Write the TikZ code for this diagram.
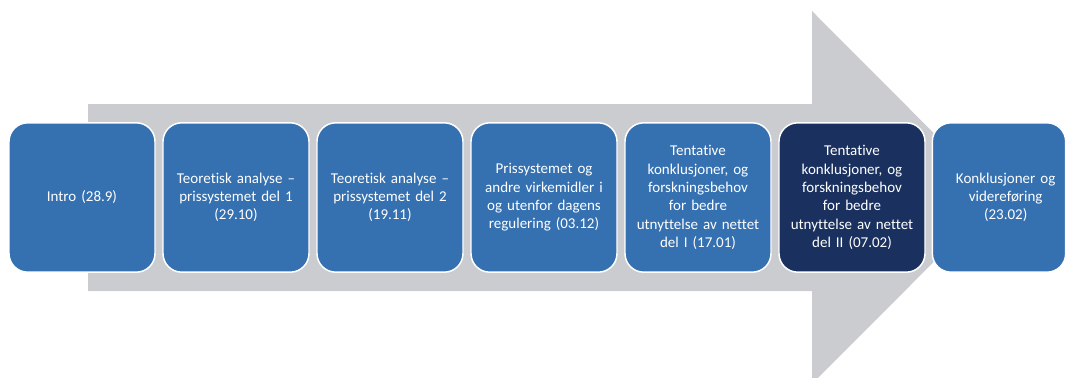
\documentclass[tikz,border=0pt]{standalone}
\usepackage{fontspec}
\setmainfont{Carlito}[Ligatures={NoCommon,NoRare}]
\definecolor{boxblue}{RGB}{53,112,176}
\definecolor{boxnavy}{RGB}{26,49,95}
\definecolor{arrowgray}{RGB}{203,204,208}
\begin{document}
\begin{tikzpicture}[x=0.75pt,y=-0.75pt,
  stagebox/.style={rectangle, rounded corners=14pt, draw=white, line width=1.1pt,
    fill=boxblue, text=white, minimum width=109.5pt, minimum height=112pt,
    text width=100pt, align=center, inner sep=0pt,
    font=\fontsize{11.25}{13.7}\selectfont},
  darkbox/.style={stagebox, fill=boxnavy}]
\useasboundingbox (0,0) rectangle (1067,378);
\fill[arrowgray] (88,104) -- (812,104) -- (812,11) -- (998,197.5) -- (812,384) -- (812,291) -- (88,291) -- cycle;
\node[stagebox] (s1) at (82,197.5) {Intro (28.9)};
\node[stagebox] (s2) at (236,197.5) {Teoretisk analyse –\\prissystemet del 1\\(29.10)};
\node[stagebox] (s3) at (390,197.5) {Teoretisk analyse –\\prissystemet del 2\\(19.11)};
\node[stagebox] (s4) at (544,197.5) {Prissystemet og\\andre virkemidler i\\og utenfor dagens\\regulering (03.12)};
\node[stagebox] (s5) at (698,197.5) {Tentative\\konklusjoner, og\\forskningsbehov\\for bedre\\utnyttelse av nettet\\del I (17.01)};
\node[darkbox] (s6) at (852,197.5) {Tentative\\konklusjoner, og\\forskningsbehov\\for bedre\\utnyttelse av nettet\\del II (07.02)};
\node[stagebox, minimum width=99pt] (s7) at (999,197.5) {\hspace*{10pt}Konklusjoner og\\\hspace*{10pt}videreføring\\\hspace*{10pt}(23.02)};
\end{tikzpicture}
\end{document}
